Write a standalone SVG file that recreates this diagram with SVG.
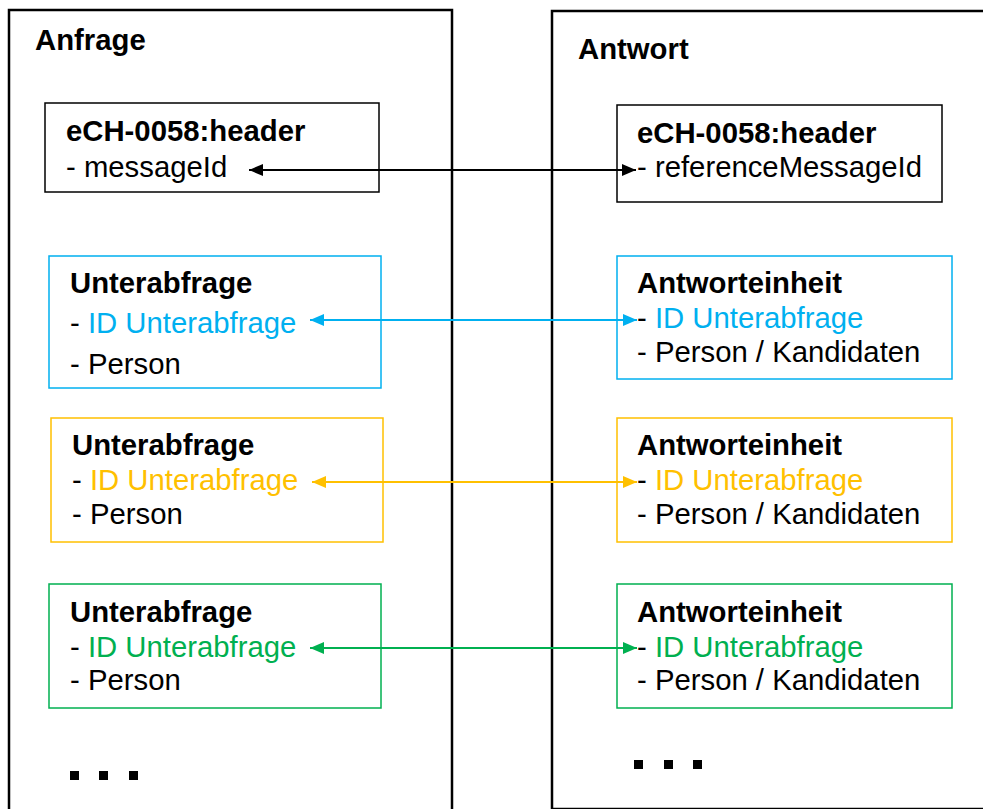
<svg xmlns="http://www.w3.org/2000/svg" width="983" height="809" viewBox="0 0 983 809">
<style>
text{font-family:"Liberation Sans",Arial,sans-serif;font-size:29.3px;fill:#000}
.b{font-weight:bold}
.outer{fill:none;stroke:#000;stroke-width:2.5}
.hdr{fill:#fff;stroke:#000;stroke-width:1.5}
.cb{fill:#fff;stroke:#00B0F0;stroke-width:1.5}
.cy{fill:#fff;stroke:#FFC000;stroke-width:1.5}
.cg{fill:#fff;stroke:#00B050;stroke-width:1.5}
.tb{fill:#00B0F0}.ty{fill:#FFC000}.tg{fill:#00B050}
.dot{fill:#000}
</style>
<defs>
<marker id="mk" viewBox="0 0 14 12" refX="14" refY="6" markerWidth="14" markerHeight="12" markerUnits="userSpaceOnUse" orient="auto-start-reverse"><path d="M0,0 L14,6 L0,12 z" fill="#000"/></marker>
<marker id="mb" viewBox="0 0 14 12" refX="14" refY="6" markerWidth="14" markerHeight="12" markerUnits="userSpaceOnUse" orient="auto-start-reverse"><path d="M0,0 L14,6 L0,12 z" fill="#00B0F0"/></marker>
<marker id="my" viewBox="0 0 14 12" refX="14" refY="6" markerWidth="14" markerHeight="12" markerUnits="userSpaceOnUse" orient="auto-start-reverse"><path d="M0,0 L14,6 L0,12 z" fill="#FFC000"/></marker>
<marker id="mg" viewBox="0 0 14 12" refX="14" refY="6" markerWidth="14" markerHeight="12" markerUnits="userSpaceOnUse" orient="auto-start-reverse"><path d="M0,0 L14,6 L0,12 z" fill="#00B050"/></marker>
</defs>

<g id="anfrage">
<rect class="outer" x="9" y="10" width="443" height="815"/>
<text class="b" x="35" y="50">Anfrage</text>
</g>
<g id="antwort">
<rect class="outer" x="552" y="11" width="440" height="798"/>
<text class="b" x="578" y="59">Antwort</text>
</g>

<g id="header-req">
<rect class="hdr" x="45" y="103" width="334" height="89"/>
<text class="b" x="66" y="141">eCH-0058:header</text>
<text x="66" y="177">- messageId</text>
</g>
<g id="header-res">
<rect class="hdr" x="617" y="105" width="325" height="97"/>
<text class="b" x="637" y="143">eCH-0058:header</text>
<text x="637" y="177">- referenceMessageId</text>
</g>

<g id="sub-blue">
<rect class="cb" x="49" y="256" width="332" height="132"/>
<text class="b" x="70" y="293">Unterabfrage</text>
<text x="70" y="333">- <tspan class="tb">ID Unterabfrage</tspan></text>
<text x="70" y="374">- Person</text>
</g>
<g id="ans-blue">
<rect class="cb" x="617" y="256" width="335" height="123"/>
<text class="b" x="637" y="293">Antworteinheit</text>
<text x="637" y="328">- <tspan class="tb">ID Unterabfrage</tspan></text>
<text x="637" y="362">- Person / Kandidaten</text>
</g>

<g id="sub-yellow">
<rect class="cy" x="51" y="418" width="332" height="124"/>
<text class="b" x="72" y="455">Unterabfrage</text>
<text x="72" y="490">- <tspan class="ty">ID Unterabfrage</tspan></text>
<text x="72" y="524">- Person</text>
</g>
<g id="ans-yellow">
<rect class="cy" x="617" y="418" width="335" height="124"/>
<text class="b" x="637" y="455">Antworteinheit</text>
<text x="637" y="490">- <tspan class="ty">ID Unterabfrage</tspan></text>
<text x="637" y="524">- Person / Kandidaten</text>
</g>

<g id="sub-green">
<rect class="cg" x="49" y="584" width="332" height="124"/>
<text class="b" x="70" y="622">Unterabfrage</text>
<text x="70" y="657">- <tspan class="tg">ID Unterabfrage</tspan></text>
<text x="70" y="690">- Person</text>
</g>
<g id="ans-green">
<rect class="cg" x="617" y="584" width="335" height="124"/>
<text class="b" x="637" y="622">Antworteinheit</text>
<text x="637" y="657">- <tspan class="tg">ID Unterabfrage</tspan></text>
<text x="637" y="690">- Person / Kandidaten</text>
</g>

<g id="ellipsis-req">
<rect class="dot" x="70" y="771" width="9" height="9"/>
<rect class="dot" x="99" y="771" width="9" height="9"/>
<rect class="dot" x="129" y="771" width="9" height="9"/>
</g>
<g id="ellipsis-res">
<rect class="dot" x="634" y="760" width="9" height="9"/>
<rect class="dot" x="664" y="760" width="9" height="9"/>
<rect class="dot" x="693" y="760" width="9" height="9"/>
</g>

<g id="connectors" fill="none" stroke-width="2">
<path d="M249,170 H636" stroke="#000" marker-start="url(#mk)" marker-end="url(#mk)"/>
<path d="M310,320 H637" stroke="#00B0F0" marker-start="url(#mb)" marker-end="url(#mb)"/>
<path d="M312,482 H637" stroke="#FFC000" marker-start="url(#my)" marker-end="url(#my)"/>
<path d="M310,648 H637" stroke="#00B050" marker-start="url(#mg)" marker-end="url(#mg)"/>
</g>
</svg>
